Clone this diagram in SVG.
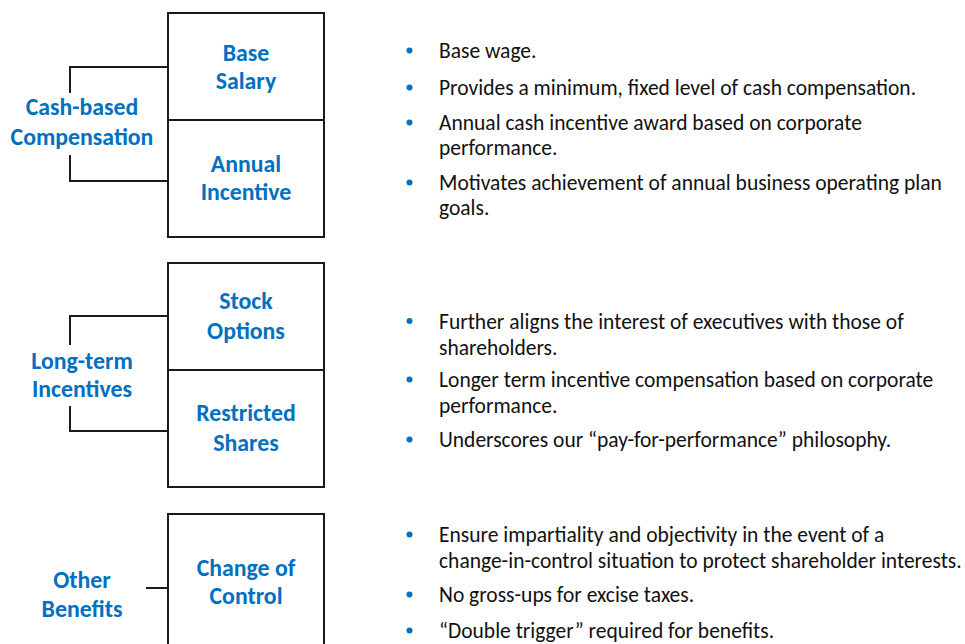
<svg xmlns="http://www.w3.org/2000/svg" width="965" height="644" viewBox="0 0 965 644">
<style>
.box{fill:#fff;stroke:#1a1a1a;stroke-width:2}
.div{stroke:#1a1a1a;stroke-width:2}
.con{fill:none;stroke:#1a1a1a;stroke-width:2}
.lbl{font-family:"Carlito","Liberation Sans",Arial,sans-serif;font-weight:bold;font-size:23.8px;fill:#0070C0;text-anchor:middle}
.txt{font-family:"Carlito","Liberation Sans",Arial,sans-serif;font-size:21.5px;fill:#111}
.dot{fill:#0070C0}
</style>
<rect width="965" height="644" fill="#fff"/>
<g id="connectors">
<polyline class="con" points="70,93 70,67 168,67"/>
<polyline class="con" points="70,155 70,181 168,181"/>
<polyline class="con" points="70,345 70,316 168,316"/>
<polyline class="con" points="70,406 70,431 168,431"/>
<line class="con" x1="146" y1="588" x2="168" y2="588"/>
</g>
<g id="cash">
<text class="lbl" x="82" y="115">Cash-based</text>
<text class="lbl" x="82" y="145">Compensation</text>
</g>
<g id="box1">
<rect class="box" x="168" y="13" width="156" height="224"/>
<line class="div" x1="168" y1="120" x2="324" y2="120"/>
</g>
<g id="base-salary">
<text class="lbl" x="246" y="61">Base</text>
<text class="lbl" x="246" y="89">Salary</text>
</g>
<g id="annual-incentive">
<text class="lbl" x="246" y="172">Annual</text>
<text class="lbl" x="246" y="200">Incentive</text>
</g>
<g id="lti">
<text class="lbl" x="82" y="369">Long-term</text>
<text class="lbl" x="82" y="397">Incentives</text>
</g>
<g id="box2">
<rect class="box" x="168" y="263" width="156" height="224"/>
<line class="div" x1="168" y1="370" x2="324" y2="370"/>
</g>
<g id="stock-options">
<text class="lbl" x="246" y="309">Stock</text>
<text class="lbl" x="246" y="339">Options</text>
</g>
<g id="restricted-shares">
<text class="lbl" x="246" y="421">Restricted</text>
<text class="lbl" x="246" y="451">Shares</text>
</g>
<g id="other">
<text class="lbl" x="82" y="588">Other</text>
<text class="lbl" x="82" y="617">Benefits</text>
</g>
<g id="box3">
<rect class="box" x="168" y="514" width="156" height="150"/>
</g>
<g id="change-of-control">
<text class="lbl" x="246" y="576">Change of</text>
<text class="lbl" x="246" y="604">Control</text>
</g>
<g id="bullets1">
<circle class="dot" cx="409.5" cy="50.5" r="3"/>
<text class="txt" x="439" y="58">Base wage.</text>
<circle class="dot" cx="409.5" cy="87.5" r="3"/>
<text class="txt" x="439" y="95">Provides a minimum, fixed level of cash compensation.</text>
<circle class="dot" cx="409.5" cy="122.5" r="3"/>
<text class="txt" x="439" y="130">Annual cash incentive award based on corporate</text>
<text class="txt" x="439" y="155">performance.</text>
<circle class="dot" cx="409.5" cy="182.5" r="3"/>
<text class="txt" x="439" y="190">Motivates achievement of annual business operating plan</text>
<text class="txt" x="439" y="215">goals.</text>
</g>
<g id="bullets2">
<circle class="dot" cx="409.5" cy="321" r="3"/>
<text class="txt" x="439" y="329">Further aligns the interest of executives with those of</text>
<text class="txt" x="439" y="355">shareholders.</text>
<circle class="dot" cx="409.5" cy="379.5" r="3"/>
<text class="txt" x="439" y="387">Longer term incentive compensation based on corporate</text>
<text class="txt" x="439" y="413">performance.</text>
<circle class="dot" cx="409.5" cy="439.5" r="3"/>
<text class="txt" x="439" y="447">Underscores our “pay-for-performance” philosophy.</text>
</g>
<g id="bullets3">
<circle class="dot" cx="409.5" cy="534.5" r="3"/>
<text class="txt" x="439" y="542">Ensure impartiality and objectivity in the event of a</text>
<text class="txt" x="439" y="568">change-in-control situation to protect shareholder interests.</text>
<circle class="dot" cx="409.5" cy="594.5" r="3"/>
<text class="txt" x="439" y="602">No gross-ups for excise taxes.</text>
<circle class="dot" cx="409.5" cy="630.5" r="3"/>
<text class="txt" x="439" y="638">“Double trigger” required for benefits.</text>
</g>
</svg>
